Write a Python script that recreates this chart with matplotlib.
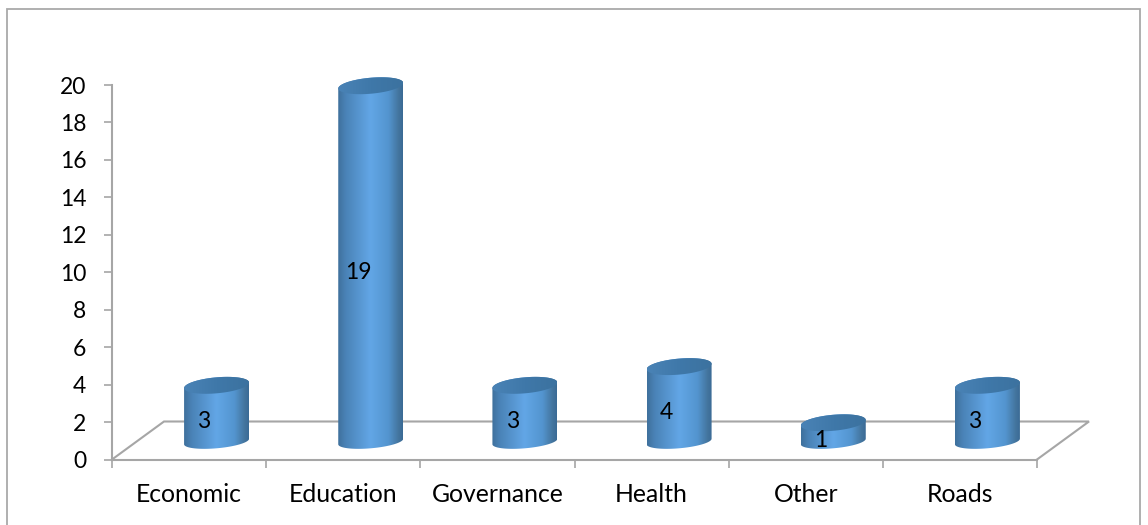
import numpy as np
import matplotlib
matplotlib.use("Agg")
import matplotlib.pyplot as plt
from matplotlib.colors import LinearSegmentedColormap
from matplotlib.patches import PathPatch, Rectangle
from matplotlib.path import Path

categories = ["Economic", "Education", "Governance", "Health", "Other", "Roads"]
values = [3, 19, 3, 4, 1, 3]
y_ticks = list(range(0, 21, 2))

W, H = 1148, 525
fig = plt.figure(figsize=(W / 100, H / 100), dpi=100, facecolor="white")
plt.rcParams["font.family"] = ["Lato", "DejaVu Sans"]

# plot box in pixels
X0, X1, Y0, Y20 = 112.0, 1037.0, 459.5, 85.0
ax = fig.add_axes([X0 / W, 1 - Y0 / H, (X1 - X0) / W, (Y0 - Y20) / H])
ax.set_xlim(0, len(categories))
ax.set_ylim(0, 20)
ax.patch.set_visible(False)
for s in ("top", "right"):
    ax.spines[s].set_visible(False)
GRAY = "#a6a6a6"
for s in ("left", "bottom"):
    ax.spines[s].set_color(GRAY)
    ax.spines[s].set_linewidth(1.5)

ax.set_yticks(y_ticks)
ax.set_xticks(range(len(categories) + 1))
ax.set_xticklabels([""] * (len(categories) + 1))
ax.tick_params(axis="both", color=GRAY, width=1.2, length=5.5)
ax.tick_params(axis="y", labelsize=16.5, pad=13, labelcolor="black")

px = (X1 - X0) / len(categories)      # pixels per category
py = (Y0 - Y20) / 20                  # pixels per value unit

# floor, drawn in axes units with pixel depth
dx, dy = 52 / px, 38 / py
floor_x = [0, dx, len(categories) + dx, len(categories)]
floor_y = [0, dy, dy, 0]
ax.plot(floor_x, floor_y, color=GRAY, lw=1.5, clip_on=False, zorder=1, solid_joinstyle="miter")

# cylinders
cmap_body = LinearSegmentedColormap.from_list(
    "body", [(0, "#3f709c"), (0.12, "#4a83b7"), (0.5, "#62a6e6"), (0.78, "#5394cf"), (0.93, "#44769f"), (1, "#3a6a95")])
cmap_top = LinearSegmentedColormap.from_list("top", ["#4a83b6", "#3f78a9", "#3c729f"])
grad = np.linspace(0, 1, 256)[None, :]

HALF_W = 32.5 / px
BASE = 18.0 / py
SHIFT = 27.5 / px
SHEAR = 0.085
B_TOP = 8.0 / py
B_BOT = 6.8 / py
t = np.linspace(0, 2 * np.pi, 121)


def ellipse(cx, cy, b):
    xs = cx + HALF_W * np.cos(t)
    ys = cy + b * np.sin(t) + SHEAR * (HALF_W * px / py) * np.cos(t)
    return xs, ys


for i, v in enumerate(values):
    cx = i + 0.5 + SHIFT
    top, bot = BASE + v, BASE
    xt, yt = ellipse(cx, top, B_TOP)
    xb, yb = ellipse(cx, bot, B_BOT)

    # body outline: lower half of bottom ellipse + upper half of top ellipse
    lo = (t >= np.pi)
    up = (t <= np.pi)
    bx = np.r_[xb[lo], xt[up]]
    by = np.r_[yb[lo], yt[up]]
    body = PathPatch(Path(np.c_[bx, by]), transform=ax.transData, fc="none", ec="none")
    ax.add_patch(body)
    im = ax.imshow(grad, cmap=cmap_body, extent=[cx - HALF_W, cx + HALF_W, bot - 2, top + 2],
                   aspect="auto", zorder=3, interpolation="bilinear")
    im.set_clip_box(fig.bbox)
    im.set_clip_path(body)

    cap = PathPatch(Path(np.c_[xt, yt]), transform=ax.transData, fc="none", ec="none")
    ax.add_patch(cap)
    im2 = ax.imshow(grad, cmap=cmap_top, extent=[cx - HALF_W, cx + HALF_W, top - 1, top + 1],
                    aspect="auto", zorder=4, interpolation="bilinear")
    im2.set_clip_box(fig.bbox)
    im2.set_clip_path(cap)

    # value label
    ax.text(cx - 12.5 / px, BASE + v / 2 - 8.5 / py, str(v), ha="center", va="center",
            fontsize=16.5, color="black", zorder=6)

    # category label
    ax.text(i + 0.5, -35 / py, categories[i], ha="center", va="center",
            fontsize=17.8, color="black", clip_on=False)

ax.set_xlim(0, len(categories))
ax.set_ylim(0, 20)

# chart-area border
fig.add_artist(Rectangle((6.5 / W, -0.02), (1140 - 6.5) / W, 1 - 8.5 / H + 0.02,
                         transform=fig.transFigure, fc="none", ec="#a9a9a9", lw=1.3))

fig.savefig("out.png", dpi=100, facecolor="white")
